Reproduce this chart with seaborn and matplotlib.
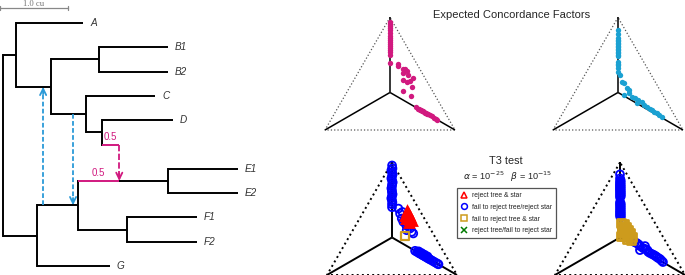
import numpy as np
import matplotlib
matplotlib.use("Agg")
import matplotlib.pyplot as plt
import seaborn as sns
from matplotlib.lines import Line2D

# ---------------- data ----------------
# phylogenetic network (depth in cu, leaf order)
node_names = ['root', 'n1', 'A', 'n2', 'n3', 'B1', 'B2', 'n4', 'C', 'n5', 'D', 'hs',
              'n6', 'G', 'n7', 'H', 'n8', 'E1', 'E2', 'n9', 'F1', 'F2']
node_parent = [None, 'root', 'n1', 'n1', 'n2', 'n3', 'n3', 'n2', 'n4', 'n4', 'n5', 'n5',
               'root', 'n6', 'n6', 'n7', 'H', 'n8', 'n8', 'n7', 'n9', 'n9']
node_depth = [0.0, 0.19, 1.18, 0.71, 1.41, 2.43, 2.43, 1.22, 2.24, 1.46, 2.50, 1.71,
              0.50, 1.57, 1.10, 1.71, 2.43, 3.46, 3.46, 1.82, 2.85, 2.85]
leaf_order = {'A': 0, 'B1': 1, 'B2': 2, 'C': 3, 'D': 4, 'hs': 5, 'E1': 6, 'E2': 7,
              'F1': 8, 'F2': 9, 'G': 10}
leaf_labels = ['A', 'B1', 'B2', 'C', 'D', 'E1', 'E2', 'F1', 'F2', 'G']
hybrid_edges = ['hs', 'H']          # edges (by child) drawn in pink
hybrid_gamma = [0.5, 0.5]
gene_flow_depth = [0.59, 1.03]
gene_flow_from = ['n7', 'n4']
gene_flow_to = ['n2', 'n7']

# expected concordance factors, network 1 (pink)
ecf1_cf1 = [0.956, 0.938, 0.920, 0.903, 0.885, 0.858, 0.832, 0.814, 0.796, 0.779, 0.761,
            0.743, 0.726, 0.708, 0.690, 0.664, 0.593,
            0.590, 0.566, 0.540, 0.546, 0.525, 0.507, 0.487, 0.458, 0.442, 0.427, 0.434,
            0.383, 0.348, 0.301,
            0.200, 0.190, 0.185, 0.180, 0.175, 0.170, 0.165, 0.160, 0.155, 0.150, 0.145,
            0.140, 0.130, 0.120, 0.110, 0.100, 0.0925]
ecf1_cf3 = [0.022, 0.031, 0.040, 0.049, 0.058, 0.071, 0.084, 0.093, 0.102, 0.111, 0.120,
            0.129, 0.137, 0.146, 0.155, 0.168, 0.204,
            0.264, 0.281, 0.328, 0.343, 0.371, 0.349, 0.398, 0.450, 0.377, 0.420, 0.437,
            0.476, 0.429, 0.509,
            0.600, 0.620, 0.630, 0.640, 0.650, 0.660, 0.670, 0.680, 0.690, 0.700, 0.710,
            0.720, 0.740, 0.760, 0.780, 0.800, 0.815]

# expected concordance factors, network 2 (blue)
ecf2_cf1 = [0.885, 0.850, 0.814, 0.800, 0.788, 0.775, 0.761, 0.748, 0.735, 0.722, 0.708,
            0.695, 0.681, 0.668, 0.655, 0.602, 0.588, 0.575, 0.549, 0.513,
            0.487, 0.427, 0.416, 0.369, 0.354, 0.310, 0.295, 0.281, 0.265, 0.250, 0.236,
            0.206, 0.177, 0.148, 0.118, 0.330, 0.220, 0.190, 0.160, 0.135]
ecf2_cf3 = [0.058, 0.075, 0.093, 0.100, 0.106, 0.113, 0.120, 0.126, 0.133, 0.139, 0.146,
            0.153, 0.160, 0.166, 0.173, 0.199, 0.206, 0.213, 0.226, 0.244,
            0.272, 0.315, 0.338, 0.383, 0.410, 0.391, 0.458, 0.490, 0.524, 0.557, 0.531,
            0.618, 0.671, 0.724, 0.777, 0.420, 0.590, 0.650, 0.700, 0.745]

# T3 test, network 1 sample
t1_blue_cf1 = [0.973, 0.947, 0.930, 0.912, 0.894, 0.876, 0.858, 0.841, 0.823, 0.805, 0.788,
               0.770, 0.752, 0.735, 0.717, 0.699, 0.681, 0.664, 0.646, 0.628, 0.602,
               0.590, 0.546, 0.502, 0.472, 0.398, 0.383, 0.369, 0.413, 0.560, 0.440,
               0.215, 0.205, 0.210, 0.195, 0.190, 0.195, 0.180, 0.175, 0.180, 0.165,
               0.160, 0.165, 0.150, 0.145, 0.140, 0.130, 0.120, 0.110, 0.100, 0.095]
t1_blue_cf3 = [0.014, 0.030, 0.030, 0.044, 0.058, 0.062, 0.066, 0.080, 0.094, 0.098, 0.106,
               0.110, 0.124, 0.132, 0.146, 0.150, 0.154, 0.168, 0.180, 0.186, 0.199,
               0.254, 0.289, 0.324, 0.351, 0.414, 0.460, 0.479, 0.432, 0.300, 0.390,
               0.570, 0.590, 0.600, 0.610, 0.620, 0.630, 0.640, 0.650, 0.660, 0.670,
               0.680, 0.690, 0.700, 0.710, 0.720, 0.740, 0.760, 0.780, 0.800, 0.810]
t1_red_cf1 = [0.558, 0.522, 0.504, 0.487, 0.469, 0.531, 0.540, 0.500, 0.575]
t1_red_cf3 = [0.344, 0.378, 0.356, 0.410, 0.396, 0.335, 0.360, 0.390, 0.330]
t1_gold_cf1 = [0.345]
t1_gold_cf3 = [0.428]

# T3 test, network 2 sample
t2_blue_cf1 = [0.894, 0.858, 0.841, 0.832, 0.823, 0.814, 0.805, 0.797, 0.788, 0.779, 0.770,
               0.761, 0.752, 0.744, 0.735, 0.726, 0.717, 0.708, 0.699, 0.690,
               0.646, 0.637, 0.628, 0.620, 0.611, 0.602, 0.593, 0.584, 0.575, 0.566,
               0.558, 0.549, 0.540, 0.531, 0.522, 0.513,
               0.310, 0.283, 0.257, 0.239, 0.221, 0.195, 0.177, 0.159, 0.142, 0.115,
               0.257, 0.221, 0.270, 0.230, 0.205, 0.185, 0.168, 0.150, 0.128, 0.290]
t2_blue_cf3 = [0.053, 0.071, 0.085, 0.084, 0.094, 0.093, 0.103, 0.101, 0.112, 0.110, 0.121,
               0.119, 0.130, 0.128, 0.139, 0.137, 0.148, 0.146, 0.157, 0.155,
               0.177, 0.187, 0.186, 0.196, 0.195, 0.205, 0.204, 0.214, 0.213, 0.223,
               0.221, 0.232, 0.230, 0.241, 0.239, 0.250,
               0.445, 0.489, 0.525, 0.557, 0.600, 0.633, 0.673, 0.705, 0.737, 0.773,
               0.564, 0.543, 0.510, 0.580, 0.615, 0.655, 0.690, 0.720, 0.755, 0.470]
t2_gold_cf1 = [0.460, 0.451, 0.425, 0.425, 0.398, 0.398, 0.381, 0.372, 0.372, 0.345,
               0.345, 0.336, 0.319, 0.310, 0.345]
t2_gold_cf3 = [0.278, 0.306, 0.303, 0.334, 0.332, 0.363, 0.325, 0.360, 0.391, 0.359,
               0.389, 0.425, 0.395, 0.430, 0.335]

legend_labels = ['reject tree & star', 'fail to reject tree/reject star',
                 'fail to reject tree & star', 'reject tree/fail to reject star']

# ---------------- style ----------------
sns.set_style('white')
plt.rcParams['font.family'] = ['Liberation Sans', 'DejaVu Sans']
plt.rcParams['mathtext.fontset'] = 'dejavusans'

PINK = '#D1197F'
LBLUE = '#1BA1D2'
ABLUE = '#2A9AD8'
GOLD = '#CD9B1D'

W, H = 685, 275
fig = plt.figure(figsize=(W / 100, H / 100), dpi=100)

# ---------------- tree ----------------
PX = 68.0            # pixels per cu
axt = fig.add_axes([0, 0, 300 / W, 1])
axt.set_xlim(-3 / PX, 297 / PX)
axt.set_ylim((H - 23) / 24.3, -23 / 24.3)
axt.axis('off')

depth = dict(zip(node_names, node_depth))
parent = dict(zip(node_names, node_parent))
children = {n: [c for c in node_names if parent[c] == n] for n in node_names}
ypos = {}


def gety(n):
    if n in ypos:
        return ypos[n]
    if n in leaf_order:
        ypos[n] = leaf_order[n]
    else:
        ys = [gety(c) for c in children[n]]
        ypos[n] = (min(ys) + max(ys)) / 2
    return ypos[n]


for n in node_names:
    gety(n)

LW = 1.4
for n in node_names:
    p = parent[n]
    if p is not None:
        col = PINK if n in hybrid_edges else 'black'
        axt.plot([depth[p], depth[n]], [ypos[n], ypos[n]], color=col, lw=LW,
                 solid_capstyle='butt')
    ch = children[n]
    if len(ch) > 1:
        ys = [ypos[c] for c in ch]
        axt.plot([depth[n], depth[n]], [min(ys), max(ys)], color='black', lw=LW,
                 solid_capstyle='projecting')

for lab in leaf_labels:
    axt.text(depth[lab] + 0.1, ypos[lab], lab, ha='left', va='center', fontsize=7.2,
             style='italic', color='#333333')

# hybrid (minor) dashed edge
hx = depth['hs']
axt.plot([hx, hx], [ypos['hs'], ypos['H'] - 0.12], color=PINK, lw=1.3,
         ls=(0, (3.5, 1.3)))
axt.annotate('', xy=(hx, ypos['H']), xytext=(hx, ypos['H'] - 0.3),
             arrowprops=dict(arrowstyle='->,head_length=0.45,head_width=0.22',
                             color=PINK, lw=1.3, shrinkA=0, shrinkB=0))
for e, g in zip(hybrid_edges, hybrid_gamma):
    xm = (depth[parent[e]] + depth[e]) / 2
    axt.text(xm, ypos[e] - 0.12, f'{g}', color=PINK, fontsize=7, ha='center',
             va='bottom')

# gene flow arrows
for d, a, b in zip(gene_flow_depth, gene_flow_from, gene_flow_to):
    y0, y1 = ypos[a], ypos[b]
    sgn = np.sign(y1 - y0)
    axt.plot([d, d], [y0, y1 - sgn * 0.1], color=ABLUE, lw=1.3, ls=(0, (2.6, 1.3)))
    axt.annotate('', xy=(d, y1), xytext=(d, y1 - sgn * 0.3),
                 arrowprops=dict(arrowstyle='->,head_length=0.45,head_width=0.22',
                                 color=ABLUE, lw=1.3, shrinkA=0, shrinkB=0))

# scale bar
sb_y = (8 - 23) / 24.3
axt.plot([-3 / PX, -3 / PX + 1.0], [sb_y, sb_y], color='#888888', lw=0.9)
for xx in [-3 / PX + 0.004, -3 / PX + 1.0]:
    axt.plot([xx, xx], [sb_y - 0.1, sb_y + 0.1], color='#888888', lw=0.9)
axt.text(-3 / PX + 0.5, (3.5 - 23) / 24.3, '1.0 cu', ha='center', va='center',
         fontsize=6.2, family='Liberation Serif', color='#777777')

# ---------------- ternary panels ----------------
S3 = np.sqrt(3) / 2
L = 130.0


def tern_axes(cx, base, dot_lw, dot_col, solid_lw):
    left, right, top, bottom = cx - 72, cx + 72, base - 122, base + 6
    ax = fig.add_axes([left / W, 1 - bottom / H, (right - left) / W, (bottom - top) / H])
    ax.set_xlim((left - cx) / L, (right - cx) / L)
    ax.set_ylim((base - bottom) / L, (base - top) / L)
    ax.axis('off')
    vx = [0.0, -0.5, 0.5, 0.0]
    vy = [S3, 0.0, 0.0, S3]
    ax.plot(vx, vy, color=dot_col, lw=dot_lw, ls=':', zorder=1)
    c = S3 / 3
    for x, y in zip([0.0, -0.5, 0.5], [S3, 0.0, 0.0]):
        ax.plot([0, x], [c, y], color='black', lw=solid_lw, zorder=1,
                solid_capstyle='butt')
    return ax


def to_xy(cf1, cf3):
    cf1 = np.asarray(cf1)
    cf3 = np.asarray(cf3)
    cf2 = 1 - cf1 - cf3
    return 0.5 * (cf3 - cf2), cf1 * S3


ax1 = tern_axes(390, 130, 0.9, '#555555', 1.1)
x, y = to_xy(ecf1_cf1, ecf1_cf3)
sns.scatterplot(x=x, y=y, ax=ax1, color=PINK, s=15, linewidth=0, legend=False, zorder=3)

ax2 = tern_axes(618, 130, 0.9, '#555555', 1.1)
x, y = to_xy(ecf2_cf1, ecf2_cf3)
sns.scatterplot(x=x, y=y, ax=ax2, color=LBLUE, s=15, linewidth=0, legend=False, zorder=3)

ax3 = tern_axes(392, 275, 1.4, 'black', 1.4)
x, y = to_xy(t1_blue_cf1, t1_blue_cf3)
sns.scatterplot(x=x, y=y, ax=ax3, marker='o', s=32, facecolor='none', edgecolor='blue',
                linewidth=1.3, legend=False, zorder=3)
x, y = to_xy(t1_red_cf1, t1_red_cf3)
sns.scatterplot(x=x, y=y, ax=ax3, marker='^', s=85, color='red', linewidth=0,
                legend=False, zorder=4)
x, y = to_xy(t1_gold_cf1, t1_gold_cf3)
sns.scatterplot(x=x, y=y, ax=ax3, marker='s', s=28, facecolor='none', edgecolor=GOLD,
                linewidth=1.6, legend=False, zorder=4)

ax4 = tern_axes(620, 275, 1.4, 'black', 1.4)
x, y = to_xy(t2_blue_cf1, t2_blue_cf3)
sns.scatterplot(x=x, y=y, ax=ax4, marker='o', s=32, facecolor='none', edgecolor='blue',
                linewidth=1.3, legend=False, zorder=3)
x, y = to_xy(t2_gold_cf1, t2_gold_cf3)
sns.scatterplot(x=x, y=y, ax=ax4, marker='s', s=34, facecolor='none', edgecolor=GOLD,
                linewidth=2.0, legend=False, zorder=4)

# ---------------- titles and legend ----------------
fig.text(512 / W, 1 - 15.5 / H, 'Expected Concordance Factors', ha='center', va='center',
         fontsize=8)
fig.text(505.5 / W, 1 - 161.5 / H, 'T3 test', ha='center', va='center', fontsize=7.8)
fig.text(507.5 / W, 1 - 177 / H, r'$\alpha$ = 10$^{-25}$   $\beta$ = 10$^{-15}$',
         ha='center', va='center', fontsize=6.6)

handles = [
    Line2D([], [], ls='none', marker='^', ms=4.5, mfc='none', mec='red', mew=1.1),
    Line2D([], [], ls='none', marker='o', ms=4.2, mfc='none', mec='blue', mew=1.1),
    Line2D([], [], ls='none', marker='s', ms=4.0, mfc='none', mec=GOLD, mew=1.1),
    Line2D([], [], ls='none', marker='x', ms=4.0, mec='#007A00', mew=1.1),
]
leg = fig.legend(handles, legend_labels, loc='upper left',
                 bbox_to_anchor=(457 / W, 1 - 188 / H), frameon=True, fancybox=False,
                 fontsize=4.9, labelspacing=0.7, handletextpad=0.6, handlelength=1.0,
                 borderpad=0.6, borderaxespad=0, framealpha=1)
leg.get_frame().set_edgecolor('#555555')
leg.get_frame().set_linewidth(0.9)
for t in leg.get_texts():
    t.set_color('#222222')

fig.savefig('out.png', dpi=100)
